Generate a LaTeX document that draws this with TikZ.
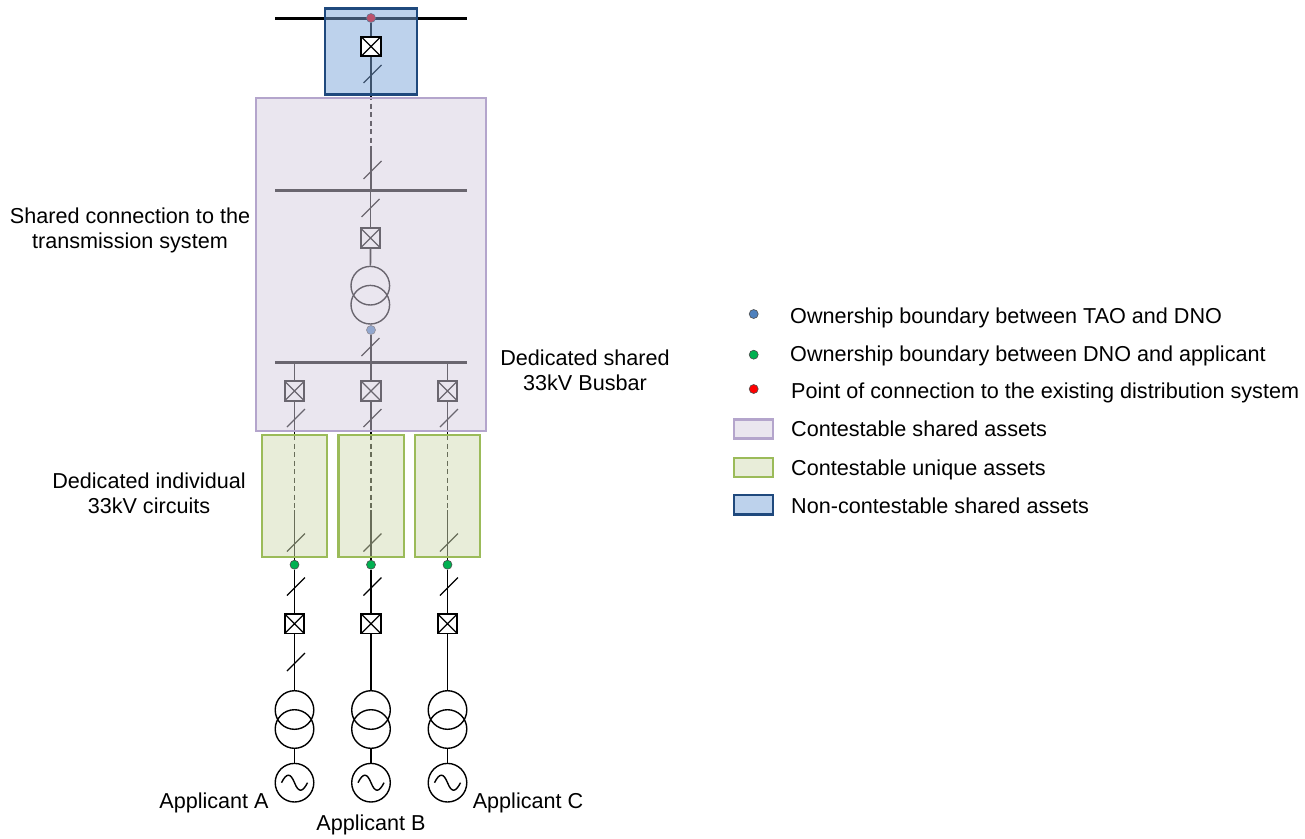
\documentclass[tikz,border=0pt]{standalone}
\usepackage{fontspec}
\setmainfont{Liberation Sans}
\definecolor{purf}{HTML}{D5CDDF}
\definecolor{purd}{HTML}{B4A5CC}
\definecolor{grnf}{HTML}{D1DBB3}
\definecolor{grnd}{HTML}{9BBB59}
\definecolor{bluf}{HTML}{7BA5D9}
\definecolor{blud}{HTML}{1F497D}
\definecolor{ptred}{HTML}{FF0000}
\definecolor{ptgrn}{HTML}{00B050}
\definecolor{ptblu}{HTML}{4F81BD}
\tikzset{
  wire/.style={line width=1.7pt,black},
  dashwire/.style={line width=1.7pt,black,dash pattern=on 5pt off 3.5pt},
  bus/.style={line width=3pt,black},
  slash/.style={line width=1.3pt,black},
  brk/.style={draw=black,fill=white,line width=1.6pt,minimum size=19.5pt,inner sep=0pt,path picture={
    \draw[line width=1.3pt,black] (path picture bounding box.south west)--(path picture bounding box.north east)
      (path picture bounding box.north west)--(path picture bounding box.south east);}},
  ring/.style={circle,draw=black,line width=1.4pt,minimum size=38.6pt,inner sep=0pt},
  dotpt/.style={circle,draw=black!70,line width=.6pt,minimum size=9pt,inner sep=0pt},
  sharedbox/.style={draw=purd,fill=purf,line width=2.2pt,fill opacity=.5},
  uniquebox/.style={draw=grnd,fill=grnf,line width=2.2pt,fill opacity=.5},
  ncbox/.style={draw=blud,fill=bluf,line width=2.2pt,fill opacity=.5},
  lab/.style={font=\fontsize{21.6}{25}\selectfont,inner sep=0pt,align=center,text=black},
  leg/.style={font=\fontsize{21.6}{25}\selectfont,inner sep=0pt,anchor=base west,text=black},
}
\newcommand{\slashat}[2]{\draw[slash] (#1-8.5,#2+9) -- (#1+9.5,#2-9);}
\newcommand{\genwave}[2]{\draw[line width=1.4pt,black] (#1-13,#2) .. controls (#1-8,#2-10) and (#1-4,#2-10) .. (#1,#2) .. controls (#1+4,#2+10) and (#1+8,#2+10) .. (#1+13,#2);}
\begin{document}
\begin{tikzpicture}[x=1pt,y=-1pt]
\useasboundingbox (0,0) rectangle (1305,838);
% ---- top feeder and busbars
\coordinate (busTL) at (275,18); \coordinate (busTR) at (467,18);
\coordinate (bus2L) at (275,190); \coordinate (bus2R) at (467,190);
\coordinate (bus3L) at (275,362); \coordinate (bus3R) at (467,362);
\draw[bus] (busTL)--(busTR);
\draw[bus] (bus2L)--(bus2R);
\draw[bus] (bus3L)--(bus3R);
\node[dotpt,fill=ptred] (pocT) at (371,18) {};
\coordinate (a1) at (371,95); \coordinate (a2) at (371,148); \coordinate (a3) at (371,190);
\draw[wire] (pocT)--(a1);
\draw[dashwire] (a1)--(a2);
\draw[wire] (a2)--(a3);
\slashat{372}{74}
\slashat{372}{170}
\node[brk] (cbT2) at (370.5,238) {};
\node[ring] (tx1) at (370.3,285.7) {};
\node[ring] (tx2) at (370.3,304.7) {};
\draw[wire] (370.5,190)--(cbT2);
\draw[wire] (cbT2)--(tx1);
\slashat{370}{208}
\node[dotpt,fill=ptblu] (tao) at (371,330) {};
\draw[wire] (tx2)--(tao);
\draw[wire] (tao)--(371,362);
\slashat{370}{347}
% ---- three feeders
\foreach \x/\n in {294.5/a,371/b,447.5/c}{
  \node[brk] (cb\n) at (\x,391) {};
  \draw[wire] (\x,362)--(cb\n);
  \draw[wire] (cb\n)--(\x,435);
  \draw[dashwire] (\x,435)--(\x,510);
  \draw[wire] (\x,510)--(\x,565);
  \slashat{\x+1}{418}
  \slashat{\x+1}{542.5}
}
% ---- translucent groups
\draw[sharedbox] (256,98) rectangle (486,431);
\draw[uniquebox] (262,435) rectangle (327,557);
\draw[uniquebox] (338.5,435) rectangle (404,557);
\draw[uniquebox] (415,435) rectangle (480,557);
\draw[ncbox] (325,8.5) rectangle (417,94.5);
\node[brk] (cbT1) at (371,46.5) {};
% ---- applicant side
\foreach \x/\n in {294.5/a,371/b,447.5/c}{
  \node[dotpt,fill=ptgrn] (dno\n) at (\x,564.7) {};
  \node[brk] (cbl\n) at (\x,623.7) {};
  \node[ring] (up\n) at (\x,710) {};
  \node[ring] (lo\n) at (\x,729) {};
  \node[ring] (gen\n) at (\x,782.7) {};
  \draw[wire] (dno\n)--(cbl\n);
  \draw[wire] (cbl\n)--(up\n);
  \draw[wire] (lo\n)--(gen\n);
  \slashat{\x+1}{586.5}
  \genwave{\x}{782.7}
}
\slashat{295.5}{662}
% ---- labels
\node[lab] (l1) at (130,230) {Shared connection to the\\transmission system};
\node[lab] (l2) at (585,370) {Dedicated shared\\33kV Busbar};
\node[lab] (l3) at (149,493) {Dedicated individual\\33kV circuits};
\node[lab] (appA) at (214,803) {Applicant A};
\node[lab] (appB) at (371,825) {Applicant B};
\node[lab] (appC) at (528,803) {Applicant C};
% ---- legend
\node[dotpt,fill=ptblu] (k1) at (753.7,314) {};
\node[dotpt,fill=ptgrn] (k2) at (753.7,354.7) {};
\node[dotpt,fill=ptred] (k3) at (753.7,389) {};
\draw[draw=purd,fill=purf!50,line width=2.2pt] (734,419.5) rectangle (773,438.5);
\draw[draw=grnd,fill=grnf!50,line width=2.2pt] (734,458) rectangle (773,477);
\draw[draw=blud,fill=bluf!50,line width=2.2pt] (734,495) rectangle (773,514.5);
\node[leg] (t1) at (790,323) {Ownership boundary between TAO and DNO};
\node[leg] (t2) at (790,361) {Ownership boundary between DNO and applicant};
\node[leg] (t3) at (791,398) {Point of connection to the existing distribution system};
\node[leg] (t4) at (791,436) {Contestable shared assets};
\node[leg] (t5) at (791,475) {Contestable unique assets};
\node[leg] (t6) at (791,513) {Non-contestable shared assets};
\end{tikzpicture}
\end{document}
